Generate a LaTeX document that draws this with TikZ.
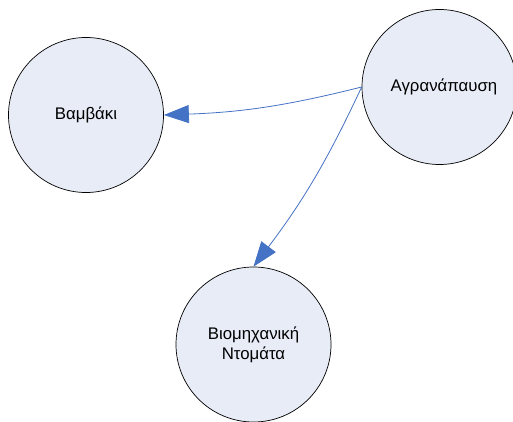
\documentclass[tikz,border=0pt]{standalone}
\usepackage{fontspec}
\setmainfont{Liberation Sans}
\usetikzlibrary{arrows.meta}
\definecolor{cfill}{HTML}{E7ECF7}
\definecolor{cline}{HTML}{4472C4}
\begin{document}
\begin{tikzpicture}[x=1pt,y=1pt,
  bubble/.style={circle, draw=black, line width=0.7pt, fill=cfill, minimum size=155pt, inner sep=0pt, align=center, font=\fontsize{16.8}{20}\selectfont},
  link/.style={draw=cline, line width=0.8pt, -{Triangle[length=25pt,width=18pt,fill=cline]}}]
\useasboundingbox (0,0) rectangle (513,421);
\clip (0,0) rectangle (513,421);
\node[bubble] (bam) at (86,306) {Βαμβάκι};
\node[bubble] (agr) at (439.5,334) {\hspace*{9pt}Αγρανάπαυση};
\node[bubble] (bio) at (253.5,76.5) {Βιομηχανική\\Ντομάτα};
\draw[link] (agr.west) to[bend left=6] (bam.east);
\draw[link] (agr.west) to[bend left=6] (bio.north);
\end{tikzpicture}
\end{document}
